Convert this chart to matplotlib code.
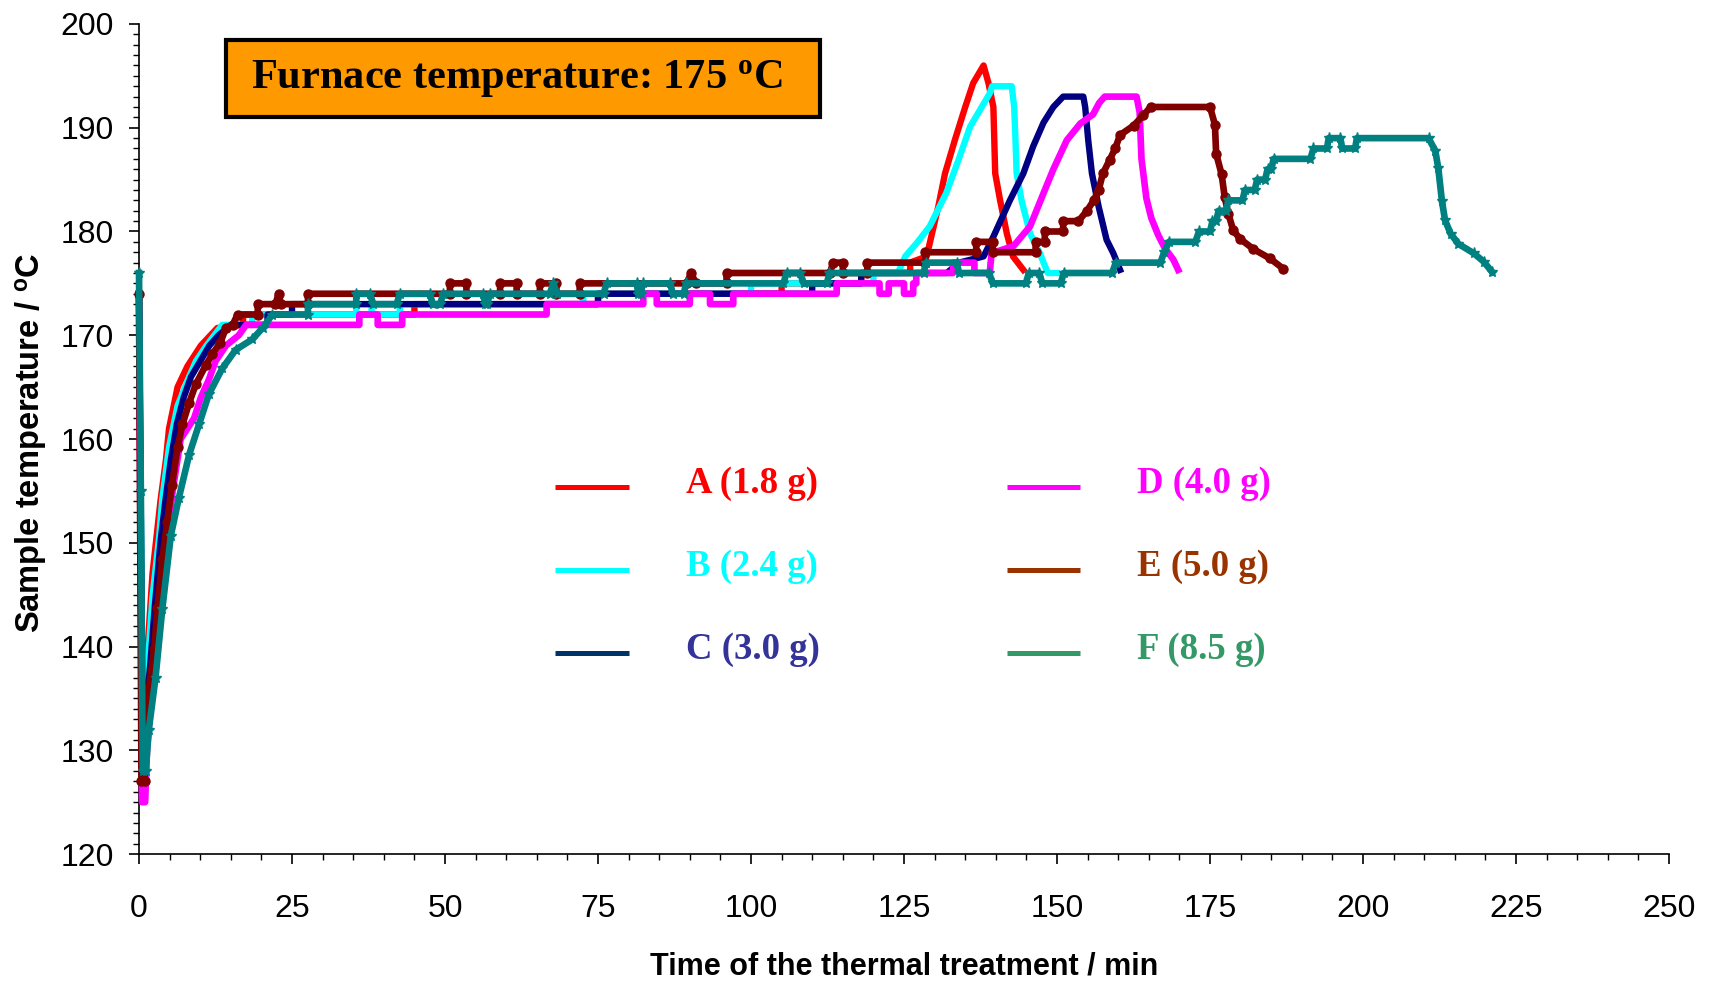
import matplotlib.pyplot as plt
from matplotlib.patches import Rectangle
from matplotlib.ticker import MultipleLocator

plt.rcParams['font.family'] = 'Liberation Sans'
plt.rcParams['mathtext.fontset'] = 'custom'
plt.rcParams['mathtext.rm'] = 'Liberation Sans:bold'
plt.rcParams['mathtext.it'] = 'Liberation Serif:bold'

# sample A (1.8 g)
t_a = [0, 0.5, 1.2, 2.2, 3.5, 4.4, 4.9, 6.3, 7.9, 9.0, 10.1, 12.8, 17, 17, 45, 45, 75, 75, 105, 105,
       118, 118, 126, 126, 128.7, 130.6, 131.7, 133.3, 135.0, 136.3, 138.0, 138.8, 139.6, 139.9, 140.7,
       141.8, 142.8, 144.5]
T_a = [174, 131, 138, 147, 154, 158, 161, 165, 167, 168, 169, 170.7, 171, 172, 172, 173, 173, 174, 174, 175,
       175, 176, 176, 177, 177.6, 182.4, 185.6, 188.8, 192, 194.3, 196, 194.3, 192, 185.6, 183,
       179.8, 177.6, 176.3]

# sample B (2.4 g)
t_b = [0, 0.6, 1.4, 2.2, 3.3, 3.8, 4.9, 6.3, 8.2, 9.3, 10.9, 12.3, 13.6, 18.5, 18.5, 35.5, 35.5, 38, 38, 42.6,
       42.6, 72.6, 72.6, 100, 100, 120, 120, 124, 125.2, 127.1, 129.2, 131.9, 133.9, 135.8, 137.4, 139.0,
       139.4, 142.6, 143.0, 143.2, 143.4, 144.2, 145.6, 147.2, 147.8, 148.5, 150]
T_b = [174, 131, 138, 144.8, 150.6, 154.2, 159.2, 163.2, 166, 167.5, 168.9, 170, 171, 171, 172, 172, 173, 173, 172, 172,
       173, 173, 174, 174, 175, 175, 176, 176, 177.6, 178.9, 180.5, 183.7, 186.9, 190.1, 191.7, 193.3,
       194, 194, 192, 189, 185.6, 183, 179.8, 177.9, 177, 176, 176]

# sample C (3.0 g)
t_c = [0, 0.6, 1.8, 2.6, 3.5, 4.3, 5.2, 6.2, 7.3, 8.5, 10, 11.5, 13, 15, 21, 21, 25, 25, 75, 75,
       110, 110, 118, 118, 132, 134, 138, 139.6, 142.3, 144.5, 146.1, 147.8, 149.4, 151, 154.3, 154.6,
       155.1, 155.7, 156.8, 158.1, 159.2, 160.3]
T_c = [174, 131, 138, 144, 150, 154, 158, 161.5, 164, 166, 167.5, 169, 170, 171, 171, 172, 172, 173, 173, 174,
       174, 175, 175, 176, 176, 177, 177.6, 179.5, 183, 185.6, 188.2, 190.5, 192, 193, 193, 192,
       188.8, 185.6, 182.4, 179.2, 177.9, 176.3]

# sample D (4.0 g)
t_d = [0, 0.5, 1.0, 1.3, 2.0, 2.8, 3.6, 4.5, 5.5, 6.8, 9.0, 10.1, 11.4, 12.5, 14.2, 16.3, 17.5, 36, 36, 39,
       39, 43, 43, 66.6, 66.6, 82.4, 82.4, 84.6, 84.6, 90, 90, 93.3, 93.3, 97.1, 97.1, 114, 114, 121, 121, 122.5,
       122.5, 125, 125, 126.5, 126.5, 127, 127, 133, 133, 136.5, 136.5, 139, 139.3, 142.9, 145.6, 147.8, 149.4,
       151.6, 153.8, 155.9, 156.9, 157.8, 163.0, 163.5, 163.8, 164.6, 165.4, 166.5, 167.6, 169.0, 169.8]
T_d = [174, 125, 125, 130, 135, 140, 145, 150, 155, 160, 162, 164, 165.7, 167.5, 169, 170, 171, 171, 172, 172,
       171, 171, 172, 172, 173, 173, 174, 174, 173, 173, 174, 174, 173, 173, 174, 174, 175, 175, 174, 174,
       175, 175, 174, 174, 175, 175, 176, 176, 177, 177, 176, 176, 177.9, 178.6, 180.5, 183.7, 186,
       188.8, 190.4, 191.3, 192.4, 193, 193, 191.5, 187, 183.2, 181.3, 179.7, 178.4, 177.3, 176.3]

# sample E (5.0 g)
t_e = [0, 0.4, 0.9, 1.0, 1.6, 2.5, 3.0, 3.8, 4.6, 5.4, 6.3, 7.1, 8.2, 9.3, 10.9, 12.0, 13.3, 14.2, 15.3, 16.1,
       19.4, 19.4, 22.3, 22.8, 23.2, 27.6, 27.6, 50.8, 50.8, 53.5, 53.5, 59, 59, 61.7, 61.7, 65.5, 65.5, 68.2, 68.2, 72,
       72, 89.5, 90.2, 91, 96, 96, 112.9, 113.4, 115, 115, 119, 119, 128.5, 128.5, 136.8, 136.8, 139.5, 139.5,
       146.5, 146.5, 148, 148, 151, 151, 153.5, 154.9, 156, 156.8, 157.5, 158.6, 159.5, 160.3, 162.5, 164.1,
       165.3, 175.0, 175.8, 176.0, 176.9, 177.4, 178.0, 178.8, 179.9, 182.1, 184.8, 187.0]
T_e = [174, 127, 127, 132.6, 136, 139.8, 143.7, 148.4, 152, 155.6, 159.2, 161.4, 163.5, 165.3, 167.1, 168.2, 169.3, 170.7, 171, 172,
       172, 173, 173, 174, 173, 173, 174, 174, 175, 175, 174, 174, 175, 175, 174, 174, 175, 175, 174, 174,
       175, 175, 176, 175, 175, 176, 176, 177, 177, 176, 176, 177, 177, 178, 178, 179, 179, 178,
       178, 179, 179, 180, 180, 181, 181, 182, 183, 184, 185.6, 186.9, 188, 189.3, 190.2, 191.2,
       192, 192, 190.3, 187.5, 185.5, 183.3, 181.7, 180.1, 179.3, 178.3, 177.4, 176.4]

# sample F (8.5 g)
t_f = [0, 0.3, 0.6, 1.1, 1.6, 2.7, 3.8, 5.2, 6.5, 8.2, 9.8, 11.4, 13.6, 15.8, 18.5, 20.2, 21.8, 27.6, 27.6, 35.5,
       35.5, 37.7, 38.3, 42.1, 42.6, 47.5, 48.0, 49.2, 49.7, 56.2, 56.6, 56.9, 57.3, 67.1, 67.7, 68.3, 75.9, 76.4,
       81.3, 81.6, 82.0, 82.3, 86.8, 87.2, 89.0, 89.4, 105.3, 105.8, 108.0, 108.6, 112.4, 112.8, 128.2, 128.6,
       133.6, 134.0, 138.9, 139.5, 144.9, 145.4, 147.1, 147.6, 150.6, 151.1, 159.0, 159.6, 166.9, 167.5, 168.3,
       172.6, 173.2, 175.0, 175.4, 176.0, 176.4, 177.6, 178.0, 180.3, 180.7, 182.3, 182.7, 184.0, 184.4, 185.0,
       185.4, 191.4, 191.9, 194.1, 194.4, 196.3, 196.6, 198.7, 199.0, 210.7, 211.8, 212.3, 212.9, 213.4, 214.3,
       215.6, 218.1, 219.7, 221.1]
T_f = [176, 155, 128, 128, 132, 137, 143.6, 150.7, 154.3, 158.5, 161.4, 164.3, 166.8, 168.6, 169.6, 170.7, 172, 172, 173, 173,
       174, 174, 173, 173, 174, 174, 173, 173, 174, 174, 173, 173, 174, 174, 175, 174, 174, 175,
       175, 174, 174, 175, 175, 174, 174, 175, 175, 176, 176, 175, 175, 176, 176, 177,
       177, 176, 176, 175, 175, 176, 176, 175, 175, 176, 176, 177, 177, 178, 179,
       179, 180, 180, 181, 181, 182, 182, 183, 183, 184, 184, 185, 185, 186, 186,
       187, 187, 188, 188, 189, 189, 188, 188, 189, 189, 187.8, 186.1, 182.9, 181.1, 179.8,
       178.8, 177.9, 177.1, 176.1]

labels = ['A (1.8 g)', 'B (2.4 g)', 'C (3.0 g)', 'D (4.0 g)', 'E (5.0 g)', 'F (8.5 g)']

fig = plt.figure(figsize=(17.12, 9.83), dpi=100)
ax = fig.add_axes([0.0812, 0.1312, 0.8937, 0.8444])

ax.plot(t_a, T_a, color='#FF0000', lw=4.6, clip_on=False, zorder=3)
ax.plot(t_b, T_b, color='#00FFFF', lw=4.6, clip_on=False, zorder=4)
ax.plot(t_c, T_c, color='#000080', lw=4.6, clip_on=False, zorder=5)
ax.plot(t_d, T_d, color='#FF00FF', lw=4.8, clip_on=False, zorder=6)
ax.plot(t_e, T_e, color='#800000', lw=4.8, marker='o', ms=6.5, clip_on=False, zorder=7)
ax.plot(t_f, T_f, color='#008080', lw=4.8, marker='*', ms=8, clip_on=False, zorder=8)

ax.set_xlim(0, 250)
ax.set_ylim(120, 200)
ax.xaxis.set_major_locator(MultipleLocator(25))
ax.xaxis.set_minor_locator(MultipleLocator(5))
ax.yaxis.set_major_locator(MultipleLocator(10))
ax.yaxis.set_minor_locator(MultipleLocator(1))
ax.spines['top'].set_visible(False)
ax.spines['right'].set_visible(False)
ax.spines['left'].set_linewidth(1.2)
ax.spines['bottom'].set_linewidth(1.2)
ax.tick_params(which='major', length=7, width=1.2, labelsize=23)
ax.tick_params(which='minor', length=4, width=1.0)
ax.tick_params(axis='y', which='major', pad=11)
ax.tick_params(axis='x', which='major', pad=22)

fig.text(0.528, 0.0165, 'Time of the thermal treatment / min', ha='center', va='center',
         fontsize=22, fontweight='bold')
fig.text(0.0181, 0.55, 'Sample temperature / $^{\\mathrm{o}}$C', ha='center', va='center',
         rotation=90, fontsize=23.5, fontweight='bold')

# title box
ax.add_patch(Rectangle((0.0569, 0.888), 0.3882, 0.093, transform=ax.transAxes, fc='#FF9900',
                       ec='black', lw=3, clip_on=False, zorder=10))
ax.text(0.247, 0.934, 'Furnace temperature: 175 $^{\\mathit{o}}$C', transform=ax.transAxes,
        ha='center', va='center', fontsize=30.5, fontweight='bold', family='Liberation Serif', zorder=11)

# legend drawn by hand, two columns
line_cols = ['#FF0000', '#00FFFF', '#003366', '#FF00FF', '#993300', '#339966']
text_cols = ['#FF0000', '#00FFFF', '#333399', '#FF00FF', '#993300', '#339966']
rows_y = [0.442, 0.342, 0.242]
for i in range(6):
    col = i // 3
    y = rows_y[i % 3]
    x0 = 0.272 if col == 0 else 0.567
    ax.plot([x0, x0 + 0.048], [y, y], transform=ax.transAxes, color=line_cols[i], lw=3.6,
            solid_capstyle='butt', zorder=9)
    ax.text(x0 + 0.0855, y + 0.005, labels[i], transform=ax.transAxes, ha='left', va='center',
            fontsize=26.5, fontweight='bold', family='Liberation Serif', color=text_cols[i], zorder=9)

fig.savefig('out.png', dpi=100)
